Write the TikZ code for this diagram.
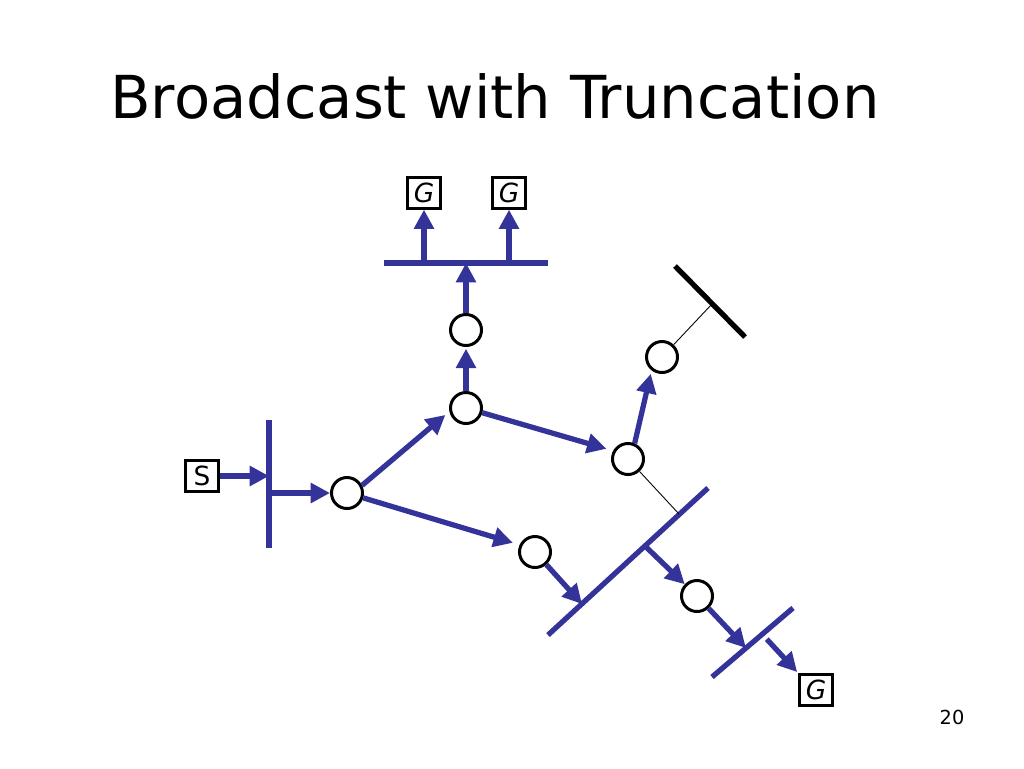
\documentclass[tikz,border=0pt]{standalone}
\usepackage{fontspec}
\setmainfont{DejaVu Sans}
\usetikzlibrary{arrows.meta}
\definecolor{netblue}{RGB}{51,51,153}
\tikzset{
  router/.style={circle, draw=black, line width=1.7pt, fill=white,
    minimum size=0.62cm, inner sep=0pt},
  host/.style={draw=black, line width=1.3pt, fill=white,
    minimum width=0.66cm, minimum height=0.62cm, inner sep=0pt,
    font=\fontsize{15}{15}\selectfont},
  lan/.style={netblue, line width=3pt},
  deadlan/.style={black, line width=3pt},
  fwd/.style={netblue, line width=3pt,
    -{Triangle[length=11pt,width=11pt]}},
  prune/.style={black, line width=0.5pt},
}

\begin{document}
\begin{tikzpicture}[x=0.02cm,y=-0.02cm]
  \useasboundingbox (0,0) rectangle (1024,768);
  \node[anchor=base west, inner sep=0pt, font=\fontsize{33.7}{33.7}\selectfont]
    (title) at (110,118) {Broadcast with Truncation};
  \node[anchor=base, inner sep=0pt, font=\fontsize{11}{11}\selectfont]
    (pageno) at (952,724) {20};

  % routers
  \node[router] (r1) at (347,493) {};
  \node[router] (r2) at (466,408) {};
  \node[router] (r3) at (466,330) {};
  \node[router] (r4) at (628,459) {};
  \node[router] (r5) at (662,357) {};
  \node[router] (r6) at (535,552) {};
  \node[router] (r7) at (697,596) {};

  % hosts
  \node[host] (s)  at (202,476) {S};
  \node[host] (g1) at (424,193) {\itshape G};
  \node[host] (g2) at (509,193) {\itshape G};
  \node[host] (g3) at (816,690) {\itshape G};

  % lans
  \coordinate (lanS1) at (269,420); \coordinate (lanS2) at (269,548);
  \coordinate (lanT1) at (384,263); \coordinate (lanT2) at (548,263);
  \coordinate (lanM1) at (548,635); \coordinate (lanM2) at (708,488);
  \coordinate (lanB1) at (712,677); \coordinate (lanB2) at (793,608);
  \coordinate (lanX1) at (675,266); \coordinate (lanX2) at (745,337);
  \draw[lan] (lanS1) -- (lanS2);
  \draw[lan] (lanT1) -- (lanT2);
  \draw[lan] (lanM1) -- (lanM2);
  \draw[lan] (lanB1) -- (lanB2);
  \draw[deadlan] (lanX1) -- (lanX2);

  % taps on the lans
  \coordinate (tapM1) at (582,604);
  \coordinate (tapM2) at (645,546);
  \coordinate (tapM3) at (679,514);
  \coordinate (tapB1) at (746,648);
  \coordinate (tapB2) at (762,634);
  \coordinate (tapX)  at (712,304);

  % forwarding
  \draw[fwd] (s) -- (s -| lanS1);
  \draw[fwd] (lanS1 |- r1) -- (r1);
  \draw[fwd, shorten >=3pt] (r1.27) -- (r2.192);
  \draw[fwd, shorten >=4pt] (r2) -- (r4.151);
  \draw[fwd, shorten >=4pt] (r1) -- (r6.155);
  \draw[fwd, shorten >=1pt] (r2) -- (r3);
  \draw[fwd] (r3) -- (r3 |- lanT1);
  \draw[fwd] (g1 |- lanT1) -- (g1);
  \draw[fwd] (g2 |- lanT1) -- (g2);
  \draw[fwd, shorten >=2pt] (r4.67) -- (r5.232);
  \draw[fwd] (r6) -- (tapM1);
  \draw[fwd] (tapM2) -- (r7);
  \draw[fwd] (r7) -- (tapB1);
  \draw[fwd, shorten <=4pt, shorten >=1pt] (tapB2) -- (g3.north west);

  % truncated branches
  \draw[prune] (r4) -- (tapM3);
  \draw[prune] (r5) -- (tapX);
\end{tikzpicture}
\end{document}
